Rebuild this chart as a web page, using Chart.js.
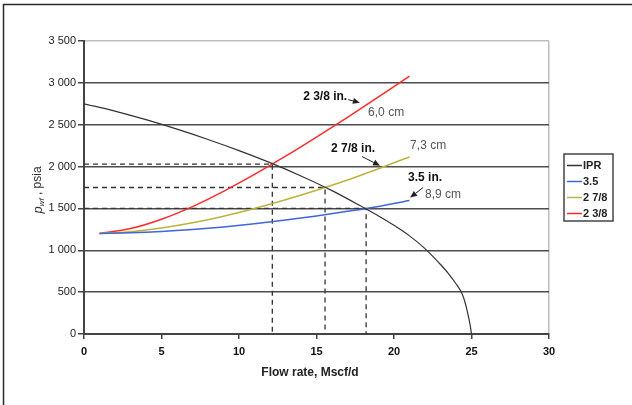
<!DOCTYPE html>
<html>
<head>
<meta charset="utf-8">
<script src="https://cdn.jsdelivr.net/npm/chart.js@4.4.1/dist/chart.umd.min.js"></script>
<style>
  html, body { margin: 0; padding: 0; background: #fff; }
  canvas { display: block; }
</style>
</head>
<body>
<canvas id="c" width="632" height="405"></canvas>
<script>
// ---- data ----
const iprQ = [0, 2, 4, 6, 8, 10, 12, 14, 16, 18, 19, 20, 21, 22, 23, 23.5, 24, 24.37, 24.55, 24.69, 24.8, 24.9, 25];
const iprP = [2750, 2663, 2560, 2447, 2324, 2191, 2047, 1888, 1713, 1514, 1410, 1298, 1172, 1020, 830, 725, 600, 490, 400, 300, 210, 120, 0];

const tubingQ = [1, 3, 5, 7, 9, 11, 13, 15, 17, 19, 21];
const tubing35 = [1200, 1208, 1224, 1248, 1279, 1317, 1361, 1410, 1465, 1524, 1595];
const tubing278 = [1200, 1222, 1266, 1328, 1407, 1500, 1604, 1717, 1839, 1975, 2115];
const tubing238 = [1200, 1259, 1371, 1522, 1704, 1906, 2124, 2353, 2589, 2832, 3080];

const seriesNames = ['IPR', '3.5', '2 7/8', '2 3/8'];
const opQ = [12.15, 15.55, 18.2];
const opP = [2030, 1750, 1500];

const xTickValues = [0, 5, 10, 15, 20, 25, 30];
const xTickLabels = ['0', '5', '10', '15', '20', '25', '30'];
const yTickValues = [0, 500, 1000, 1500, 2000, 2500, 3000, 3500];
const yTickLabels = ['0', '500', '1 000', '1 500', '2 000', '2 500', '3 000', '3 500'];

const xTitle = 'Flow rate, Mscf/d';
const yTitleParts = ['p', 'wf', ' , psia'];

// annotation texts (anchored in data units)
const noteTexts = ['2 3/8 in.', '6,0 cm', '2 7/8 in.', '7,3 cm', '3.5 in.', '8,9 cm'];
const noteX = [16.98, 18.33, 18.78, 21.04, 23.1, 22.0];
const noteY = [2839, 2644, 2215, 2251, 1869, 1665];
const noteBold = [true, false, true, false, true, false];
const noteAlign = ['right', 'left', 'right', 'left', 'right', 'left'];
const arrowFrom = [[17.04, 2800], [17.94, 2120], [21.88, 1750]];
const arrowTo = [[17.8, 2762], [19.1, 2010], [21.04, 1630]];

// ---- build datasets ----
const pts = (xs, ys) => xs.map((x, i) => ({ x: x, y: ys[i] }));
const FONT = '"Liberation Sans", Arial, Helvetica, sans-serif';

const colors = ['#333333', '#3f66d6', '#bbb43c', '#ff2b2b'];
const widths = [1.2, 1.5, 1.6, 1.5];
const curveData = [pts(iprQ, iprP), pts(tubingQ, tubing35), pts(tubingQ, tubing278), pts(tubingQ, tubing238)];

const datasets = curveData.map((d, i) => ({
  label: seriesNames[i],
  data: d,
  borderColor: colors[i],
  backgroundColor: colors[i],
  borderWidth: widths[i],
  pointRadius: 0,
  showLine: true,
  fill: false,
  cubicInterpolationMode: 'monotone'
}));

opQ.forEach((q, i) => {
  datasets.push({
    label: 'op' + i,
    data: [{ x: 0, y: opP[i] }, { x: q, y: opP[i] }, { x: q, y: 0 }],
    borderColor: '#333333',
    borderWidth: 1.3,
    borderDash: [5, 4],
    pointRadius: 0,
    showLine: true,
    fill: false,
    tension: 0
  });
});

// ---- custom drawing plugin ----
const decor = {
  id: 'decor',
  beforeDraw(chart) {
    const ctx = chart.ctx;
    ctx.save();
    ctx.fillStyle = '#ffffff';
    ctx.fillRect(0, 0, chart.width, chart.height);
    ctx.restore();
  },
  afterDraw(chart) {
    const ctx = chart.ctx;
    const xs = chart.scales.x, ys = chart.scales.y;
    const area = chart.chartArea;
    ctx.save();

    // outer frame
    ctx.strokeStyle = '#2a2a2a';
    ctx.lineWidth = 1.5;
    ctx.strokeRect(3.5, 4.5, 640, 410);

    // annotations
    ctx.textBaseline = 'middle';
    noteTexts.forEach((t, i) => {
      ctx.font = (noteBold[i] ? 'bold ' : '') + '12px ' + FONT;
      ctx.fillStyle = noteBold[i] ? '#111' : '#555';
      ctx.textAlign = noteAlign[i];
      ctx.fillText(t, xs.getPixelForValue(noteX[i]), ys.getPixelForValue(noteY[i]));
    });
    // arrows
    ctx.strokeStyle = '#222';
    ctx.fillStyle = '#222';
    ctx.lineWidth = 1;
    arrowFrom.forEach((f, i) => {
      const x1 = xs.getPixelForValue(f[0]), y1 = ys.getPixelForValue(f[1]);
      const x2 = xs.getPixelForValue(arrowTo[i][0]), y2 = ys.getPixelForValue(arrowTo[i][1]);
      const ang = Math.atan2(y2 - y1, x2 - x1);
      const hl = 7, hw = 3;
      const bx = x2 - hl * Math.cos(ang), by = y2 - hl * Math.sin(ang);
      ctx.beginPath();
      ctx.moveTo(x1, y1);
      ctx.lineTo(bx, by);
      ctx.stroke();
      ctx.beginPath();
      ctx.moveTo(x2, y2);
      ctx.lineTo(bx + hw * Math.sin(ang), by - hw * Math.cos(ang));
      ctx.lineTo(bx - hw * Math.sin(ang), by + hw * Math.cos(ang));
      ctx.closePath();
      ctx.fill();
    });

    // legend
    const lx = area.right + 15, ly = 154, lw = 49, lh = 67;
    ctx.strokeStyle = '#444';
    ctx.lineWidth = 1.5;
    ctx.strokeRect(lx, ly, lw, lh);
    ctx.font = 'bold 11px ' + FONT;
    ctx.textAlign = 'left';
    ctx.textBaseline = 'middle';
    for (let i = 0; i < 4; i++) {
      const ds = chart.data.datasets[i];
      const yy = ly + 11.5 + i * 16;
      ctx.strokeStyle = ds.borderColor;
      ctx.lineWidth = 1.5;
      ctx.beginPath();
      ctx.moveTo(lx + 3, yy);
      ctx.lineTo(lx + 18, yy);
      ctx.stroke();
      ctx.fillStyle = '#222';
      ctx.fillText(ds.label, lx + 19, yy + 0.5);
    }

    // x axis title
    ctx.font = 'bold 12px ' + FONT;
    ctx.fillStyle = '#222';
    ctx.textAlign = 'center';
    ctx.textBaseline = 'middle';
    ctx.fillText(xTitle, 310, 373);

    // y axis title (rotated, with subscript)
    ctx.translate(38, 190);
    ctx.rotate(-Math.PI / 2);
    ctx.fillStyle = '#333';
    ctx.textBaseline = 'middle';
    ctx.textAlign = 'left';
    const f1 = 'italic 13px ' + FONT, f2 = 'italic 8px ' + FONT, f3 = '12px ' + FONT;
    ctx.font = f1; const w1 = ctx.measureText(yTitleParts[0]).width;
    ctx.font = f2; const w2 = ctx.measureText(yTitleParts[1]).width;
    ctx.font = f3; const w3 = ctx.measureText(yTitleParts[2]).width;
    let sx = -(w1 + w2 + w3) / 2;
    ctx.font = f1; ctx.fillText(yTitleParts[0], sx, 0); sx += w1;
    ctx.font = f2; ctx.fillText(yTitleParts[1], sx, 4); sx += w2;
    ctx.font = f3; ctx.fillText(yTitleParts[2], sx, 0);
    ctx.restore();
  }
};

new Chart(document.getElementById('c'), {
  type: 'scatter',
  data: { datasets: datasets },
  options: {
    responsive: false,
    animation: false,
    devicePixelRatio: 1,
    layout: { padding: { left: 0, top: 41, right: 83, bottom: 0 } },
    plugins: { legend: { display: false }, tooltip: { enabled: false } },
    scales: {
      x: {
        type: 'linear', min: 0, max: 30,
        afterBuildTicks: (s) => { s.ticks = xTickValues.map(v => ({ value: v })); },
        afterFit: (s) => { s.height = 71; },
        ticks: {
          callback: (v) => { const i = xTickValues.indexOf(v); return i >= 0 ? xTickLabels[i] : ''; },
          font: { family: FONT, size: 11, weight: 'bold' },
          color: '#111',
          padding: 6,
          maxRotation: 0
        },
        grid: {
          color: (c) => (c.tick && c.tick.value === 30) ? '#bdbdbd' : 'rgba(0,0,0,0)',
          tickColor: '#444',
          tickLength: 5,
          lineWidth: 1.5
        },
        border: { color: '#444', width: 2 }
      },
      y: {
        type: 'linear', min: 0, max: 3500,
        afterBuildTicks: (s) => { s.ticks = yTickValues.map(v => ({ value: v })); },
        afterFit: (s) => { s.width = 84; },
        ticks: {
          callback: (v) => { const i = yTickValues.indexOf(v); return i >= 0 ? yTickLabels[i] : ''; },
          font: { family: FONT, size: 11 },
          color: '#222',
          padding: 2
        },
        grid: {
          color: (c) => (c.tick && c.tick.value === 3500) ? '#bdbdbd' : '#4d4d4d',
          tickColor: '#444',
          tickLength: 6,
          lineWidth: 1.5
        },
        border: { color: '#444', width: 2 }
      }
    }
  },
  plugins: [decor]
});
</script>
</body>
</html>
